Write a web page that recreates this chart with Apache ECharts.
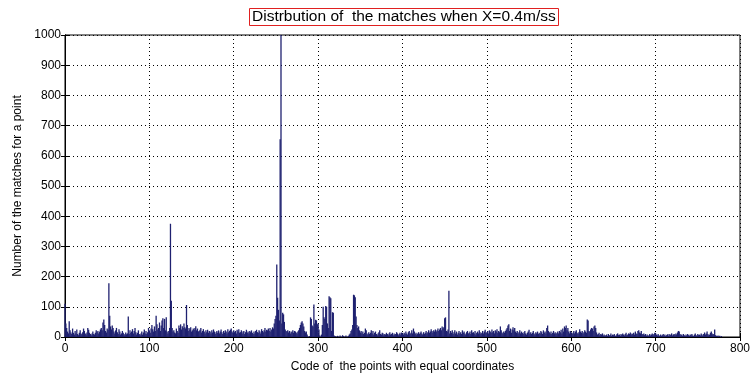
<!DOCTYPE html>
<html>
<head>
    <meta charset="utf-8">
    <title>Distrbution of the matches</title>
    <script src="https://cdn.jsdelivr.net/npm/echarts@6/dist/echarts.min.js"></script>
    <style>
        html, body { margin: 0; padding: 0; background: #fff; }
    </style>
</head>
<body>
<div id="main" style="width: 753px;height:378px;"></div>
<script>
    // number of matches per point code (index = code)
    var matches = [
        110, 45, 30, 18, 12, 52, 22, 15, 10, 28, 14, 8, 20, 12, 25, 10, 6, 14, 22, 12,
        9, 16, 28, 20, 12, 8, 15, 30, 24, 14, 10, 6, 12, 18, 10, 8, 14, 22, 16, 20,
        12, 18, 25, 30, 22, 48, 58, 40, 20, 15, 28, 24, 178, 70, 35, 25, 38, 30, 18, 12,
        22, 30, 16, 10, 26, 18, 8, 12, 20, 14, 10, 6, 15, 9, 12, 68, 10, 22, 14, 18,
        26, 12, 20, 30, 16, 8, 14, 22, 10, 6, 12, 18, 8, 15, 25, 12, 20, 10, 16, 30,
        22, 14, 28, 40, 26, 18, 35, 20, 70, 42, 25, 30, 48, 20, 38, 55, 62, 30, 60, 22,
        65, 18, 12, 20, 30, 375, 120, 30, 18, 22, 15, 12, 28, 20, 14, 38, 30, 42, 25, 36,
        30, 45, 32, 28, 106, 40, 20, 30, 25, 32, 18, 22, 28, 24, 30, 36, 22, 28, 18, 20,
        24, 30, 15, 20, 26, 18, 12, 22, 16, 24, 14, 20, 18, 12, 22, 15, 25, 18, 10, 16,
        20, 14, 22, 12, 18, 25, 16, 10, 20, 14, 22, 18, 12, 26, 16, 20, 24, 28, 18, 14,
        22, 16, 20, 12, 24, 18, 26, 14, 16, 22, 12, 18, 20, 10, 16, 24, 14, 18, 12, 20,
        16, 22, 14, 10, 18, 12, 20, 24, 16, 14, 22, 18, 12, 26, 20, 16, 22, 30, 18, 24,
        22, 28, 20, 30, 18, 25, 32, 28, 45, 60, 70, 240, 130, 90, 55, 655, 1000, 45, 80, 75,
        50, 25, 20, 18, 22, 15, 20, 12, 18, 16, 22, 14, 20, 18, 15, 12, 18, 22, 30, 40,
        48, 52, 45, 35, 20, 15, 18, 8, 2, 0, 3, 65, 60, 38, 35, 108, 45, 57, 55, 42,
        45, 25, 5, 0, 8, 40, 100, 65, 60, 103, 100, 45, 30, 135, 132, 128, 20, 82, 80, 5,
        3, 2, 0, 4, 1, 0, 5, 2, 0, 6, 3, 0, 2, 5, 0, 1, 4, 8, 12, 20,
        25, 40, 140, 138, 132, 68, 40, 30, 35, 22, 15, 20, 12, 18, 10, 14, 28, 22, 12, 8,
        16, 10, 14, 22, 12, 20, 8, 14, 18, 10, 6, 12, 16, 22, 10, 8, 14, 12, 6, 10,
        8, 14, 10, 6, 12, 16, 8, 10, 14, 6, 12, 8, 10, 16, 12, 6, 10, 14, 8, 15,
        12, 8, 14, 10, 18, 12, 8, 16, 20, 10, 14, 22, 12, 28, 18, 10, 14, 8, 12, 16,
        10, 14, 18, 12, 8, 16, 10, 14, 20, 12, 16, 22, 14, 18, 26, 20, 15, 22, 18, 25,
        18, 22, 28, 20, 25, 30, 22, 35, 28, 32, 62, 65, 20, 18, 25, 153, 12, 20, 14, 22,
        10, 16, 22, 12, 18, 8, 14, 20, 12, 16, 10, 22, 14, 18, 12, 8, 16, 20, 12, 14,
        18, 10, 22, 14, 16, 12, 20, 8, 14, 18, 12, 22, 16, 10, 14, 20, 12, 18, 24, 14,
        16, 20, 12, 22, 18, 14, 25, 16, 20, 12, 22, 18, 26, 14, 20, 16, 35, 22, 15, 12,
        18, 14, 20, 25, 30, 38, 42, 20, 28, 14, 25, 32, 22, 30, 18, 14, 20, 12, 16, 22,
        12, 18, 14, 10, 16, 20, 12, 8, 14, 18, 24, 12, 16, 10, 14, 20, 12, 8, 16, 12,
        18, 10, 14, 12, 20, 16, 10, 22, 14, 18, 12, 30, 38, 20, 16, 12, 18, 10, 14, 20,
        12, 16, 10, 14, 18, 12, 20, 16, 24, 12, 28, 18, 35, 30, 38, 22, 30, 18, 12, 20,
        16, 10, 14, 20, 12, 18, 22, 14, 10, 16, 26, 18, 14, 20, 12, 16, 22, 18, 14, 58,
        55, 20, 18, 25, 30, 28, 20, 35, 38, 30, 15, 8, 10, 14, 6, 10, 8, 12, 5, 8,
        4, 6, 8, 3, 10, 5, 7, 12, 4, 8, 6, 10, 5, 3, 9, 12, 6, 8, 4, 10,
        7, 12, 8, 5, 10, 14, 6, 8, 12, 10, 15, 8, 12, 10, 14, 8, 18, 12, 10, 20,
        22, 15, 12, 20, 10, 8, 12, 6, 10, 4, 8, 3, 6, 10, 5, 8, 12, 6, 10, 14,
        12, 8, 5, 10, 6, 3, 8, 4, 6, 10, 5, 8, 3, 6, 9, 4, 10, 6, 8, 12,
        5, 8, 10, 6, 12, 8, 15, 20, 18, 10, 6, 8, 4, 10, 6, 3, 8, 5, 10, 6,
        4, 8, 6, 10, 5, 3, 8, 12, 6, 4, 10, 6, 8, 5, 12, 8, 4, 10, 15, 8,
        12, 18, 10, 6, 8, 14, 18, 12, 8, 10, 25, 6, 4, 3, 5, 2, 4, 0, 3, 0
    ];
    var xTicks = [0, 100, 200, 300, 400, 500, 600, 700, 800];
    var yTicks = [0, 100, 200, 300, 400, 500, 600, 700, 800, 900, 1000];

    var barData = matches.map(function (v, i) { return [i, v]; });
    var font = 'Liberation Sans, Arial, sans-serif';

    var myChart = echarts.init(document.getElementById('main'));
    myChart.setOption({
        animation: false,
        title: {
            text: 'Distrbution of  the matches when X=0.4m/ss',
            left: 249,
            top: 8,
            padding: [1, 3, 1, 3],
            borderColor: '#e02020',
            borderWidth: 1,
            textStyle: { fontFamily: font, fontSize: 15.5, fontWeight: 'normal', color: '#000' }
        },
        grid: {
            left: 65, right: 12, top: 35, bottom: 35,
            show: true, borderColor: '#000', borderWidth: 1
        },
        xAxis: [{
            type: 'value',
            min: xTicks[0], max: xTicks[xTicks.length - 1], interval: 100,
            name: 'Code of  the points with equal coordinates',
            nameLocation: 'middle', nameGap: 24,
            nameTextStyle: { fontFamily: font, fontSize: 12, color: '#000' },
            axisLine: { lineStyle: { color: '#000' } },
            axisTick: { inside: true, length: 4, lineStyle: { color: '#000' } },
            axisLabel: { fontFamily: font, fontSize: 12, color: '#000', margin: 6 },
            splitLine: { show: true, lineStyle: { color: '#000', type: [1, 3], width: 1 } }
        }, {
            type: 'value', position: 'top',
            min: xTicks[0], max: xTicks[xTicks.length - 1], interval: 100,
            axisLine: { lineStyle: { color: '#000' } },
            axisTick: { inside: true, length: 4, lineStyle: { color: '#000' } },
            axisLabel: { show: false },
            splitLine: { show: false }
        }],
        yAxis: [{
            type: 'value',
            min: yTicks[0], max: yTicks[yTicks.length - 1], interval: 100,
            name: 'Number of the matches for a point',
            nameLocation: 'middle', nameGap: 36,
            nameTextStyle: { fontFamily: font, fontSize: 12, color: '#000' },
            axisLine: { show: true, lineStyle: { color: '#000' } },
            axisTick: { show: true, inside: true, length: 4, lineStyle: { color: '#000' } },
            axisLabel: {
                fontFamily: font, fontSize: 12, color: '#000', margin: 4,
                formatter: function (v) { return String(v); }
            },
            splitLine: { show: true, lineStyle: { color: '#000', type: [1, 3], width: 1 } }
        }, {
            type: 'value', position: 'right',
            min: yTicks[0], max: yTicks[yTicks.length - 1], interval: 100,
            axisLine: { show: true, lineStyle: { color: '#000' } },
            axisTick: { show: true, inside: true, length: 4, lineStyle: { color: '#000' } },
            axisLabel: { show: false },
            splitLine: { show: false }
        }],
        series: [{
            type: 'bar',
            data: barData,
            barWidth: 1.3,
            itemStyle: { color: '#1f2170' },
            clip: true
        }]
    });
</script>
</body>
</html>
